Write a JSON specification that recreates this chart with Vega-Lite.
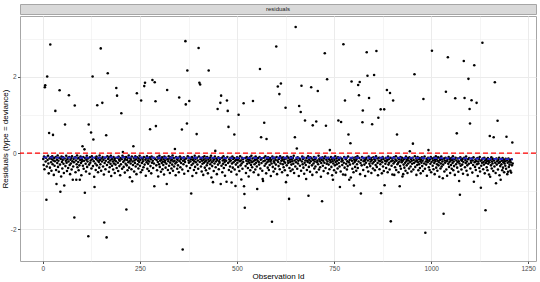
{
"$schema":"https://vega.github.io/schema/vega-lite/v6.json",
"padding":{"left":0,"right":4,"top":3,"bottom":0},
"spacing":0,
"config":{"font":"Liberation Sans","view":{"stroke":"#a6a6a6"},
"axis":{"labelFontSize":6.5,"labelColor":"#4d4d4d","titleFontSize":8,"titleFontWeight":"normal","titleColor":"#000000","tickColor":"#4d4d4d","tickSize":2.5,"labelPadding":1.5,"titlePadding":1,"domain":false,"gridColor":"#ebebeb","gridWidth":1}},
"datasets":{
"smooth":[{"id":1,"fit":-0.11},{"id":100,"fit":-0.12},{"id":200,"fit":-0.11},{"id":300,"fit":-0.12},{"id":400,"fit":-0.12},{"id":500,"fit":-0.13},{"id":600,"fit":-0.12},{"id":700,"fit":-0.12},{"id":800,"fit":-0.12},{"id":900,"fit":-0.12},{"id":1000,"fit":-0.13},{"id":1100,"fit":-0.14},{"id":1210,"fit":-0.16}],
"resid":[
{"id":1,"res":-0.15},{"id":2,"res":-0.31},{"id":3,"res":-0.09},{"id":4,"res":-0.42},{"id":5,"res":1.73},{"id":6,"res":1.78},{"id":7,"res":-0.22},{"id":8,"res":-0.12},{"id":9,"res":-1.22},{"id":10,"res":-0.35},
{"id":11,"res":2.01},{"id":12,"res":-0.18},{"id":13,"res":-0.07},{"id":14,"res":-0.27},{"id":15,"res":-0.53},{"id":16,"res":0.53},{"id":17,"res":-0.14},{"id":18,"res":-0.38},{"id":19,"res":2.85},{"id":20,"res":-0.11},
{"id":21,"res":-0.24},{"id":22,"res":-0.46},{"id":23,"res":-0.16},{"id":24,"res":-0.08},{"id":25,"res":-0.29},{"id":26,"res":0.48},{"id":27,"res":-0.19},{"id":28,"res":-0.57},{"id":29,"res":-0.13},{"id":30,"res":-0.33},
{"id":31,"res":-0.21},{"id":32,"res":1.11},{"id":33,"res":-0.1},{"id":34,"res":-0.44},{"id":35,"res":-0.81},{"id":36,"res":-0.17},{"id":37,"res":-0.26},{"id":38,"res":-0.06},{"id":39,"res":-0.36},{"id":40,"res":-0.2},
{"id":41,"res":-0.49},{"id":42,"res":-0.12},{"id":43,"res":1.65},{"id":44,"res":-0.3},{"id":45,"res":-1.01},{"id":46,"res":-0.15},{"id":47,"res":-0.61},{"id":48,"res":-0.09},{"id":49,"res":-0.23},{"id":50,"res":-0.4},
{"id":51,"res":-0.18},{"id":52,"res":-0.11},{"id":53,"res":-0.28},{"id":54,"res":-0.52},{"id":55,"res":-0.85},{"id":56,"res":-0.14},{"id":57,"res":0.75},{"id":58,"res":-0.34},{"id":59,"res":-0.2},{"id":60,"res":-0.07},
{"id":61,"res":-0.25},{"id":62,"res":-0.47},{"id":63,"res":-0.16},{"id":64,"res":-0.12},{"id":65,"res":-0.39},{"id":66,"res":-0.22},{"id":67,"res":1.52},{"id":68,"res":-0.1},{"id":69,"res":-0.31},{"id":70,"res":-0.55},
{"id":71,"res":-0.17},{"id":72,"res":-0.27},{"id":73,"res":-0.13},{"id":74,"res":-0.43},{"id":75,"res":-0.08},{"id":76,"res":-0.21},{"id":77,"res":-0.7},{"id":78,"res":-0.35},{"id":79,"res":-0.15},{"id":80,"res":-0.24},
{"id":81,"res":-1.69},{"id":82,"res":1.25},{"id":83,"res":-0.11},{"id":84,"res":-0.5},{"id":85,"res":-0.19},{"id":86,"res":-0.7},{"id":87,"res":-0.29},{"id":88,"res":-0.06},{"id":89,"res":-0.37},{"id":90,"res":-0.14},
{"id":91,"res":-0.23},{"id":92,"res":-0.45},{"id":93,"res":-0.12},{"id":94,"res":-0.32},{"id":95,"res":-0.7},{"id":96,"res":-0.18},{"id":97,"res":-0.09},{"id":98,"res":-0.26},{"id":99,"res":-0.58},{"id":100,"res":-0.16},
{"id":101,"res":-0.21},{"id":102,"res":0.18},{"id":103,"res":-0.33},{"id":104,"res":-0.1},{"id":105,"res":-0.41},{"id":106,"res":-0.2},{"id":107,"res":0.1},{"id":108,"res":-1.04},{"id":109,"res":-0.13},{"id":110,"res":-0.28},
{"id":111,"res":-0.48},{"id":112,"res":-0.17},{"id":113,"res":-0.07},{"id":114,"res":-0.36},{"id":115,"res":-0.22},{"id":116,"res":-0.14},{"id":117,"res":-2.18},{"id":118,"res":0.75},{"id":119,"res":-0.3},{"id":120,"res":-0.54},
{"id":121,"res":-0.11},{"id":122,"res":-0.25},{"id":123,"res":-0.19},{"id":124,"res":0.54},{"id":125,"res":-0.4},{"id":126,"res":-0.08},{"id":127,"res":-0.16},{"id":128,"res":2.01},{"id":129,"res":-0.34},{"id":130,"res":0.36},
{"id":131,"res":-0.21},{"id":132,"res":-0.62},{"id":133,"res":-0.89},{"id":134,"res":-0.12},{"id":135,"res":-0.27},{"id":136,"res":-0.44},{"id":137,"res":-0.15},{"id":138,"res":-0.09},{"id":139,"res":-0.32},{"id":140,"res":1.26},
{"id":141,"res":-0.19},{"id":142,"res":-0.5},{"id":143,"res":-0.13},{"id":144,"res":-0.23},{"id":145,"res":-0.38},{"id":146,"res":-0.06},{"id":147,"res":-0.18},{"id":148,"res":-0.29},{"id":149,"res":2.75},{"id":150,"res":-0.46},
{"id":151,"res":-0.14},{"id":152,"res":-0.22},{"id":153,"res":1.32},{"id":154,"res":-0.1},{"id":155,"res":-0.35},{"id":156,"res":-0.17},{"id":157,"res":-0.56},{"id":158,"res":-1.82},{"id":159,"res":-0.26},{"id":160,"res":-0.12},
{"id":161,"res":-0.42},{"id":162,"res":-0.2},{"id":163,"res":0.47},{"id":164,"res":-2.21},{"id":165,"res":-0.31},{"id":166,"res":-0.08},{"id":167,"res":2.1},{"id":168,"res":-0.15},{"id":169,"res":-0.24},{"id":170,"res":-0.49},
{"id":171,"res":-0.11},{"id":172,"res":-0.37},{"id":173,"res":-0.19},{"id":174,"res":-0.28},{"id":175,"res":-0.07},{"id":176,"res":-0.6},{"id":177,"res":-0.16},{"id":178,"res":-0.33},{"id":179,"res":-0.13},{"id":180,"res":-0.22},
{"id":181,"res":-0.43},{"id":182,"res":-0.1},{"id":183,"res":-0.27},{"id":184,"res":-0.18},{"id":185,"res":-0.52},{"id":186,"res":-0.14},{"id":187,"res":-0.3},{"id":188,"res":-0.21},{"id":189,"res":1.71},{"id":190,"res":-0.39},
{"id":191,"res":1.51},{"id":192,"res":-0.12},{"id":193,"res":-0.25},{"id":194,"res":-0.47},{"id":195,"res":-0.09},{"id":196,"res":-0.17},{"id":197,"res":-0.34},{"id":198,"res":-0.2},{"id":199,"res":-0.58},{"id":200,"res":-0.13},
{"id":201,"res":-0.29},{"id":202,"res":1.05},{"id":203,"res":-0.16},{"id":204,"res":-0.41},{"id":205,"res":-0.07},{"id":206,"res":0.03},{"id":207,"res":-0.23},{"id":208,"res":-0.36},{"id":209,"res":-0.11},{"id":210,"res":-0.19},
{"id":211,"res":-0.51},{"id":212,"res":-0.15},{"id":213,"res":-0.28},{"id":214,"res":-0.1},{"id":215,"res":-1.48},{"id":216,"res":-0.32},{"id":217,"res":-0.18},{"id":218,"res":-0.45},{"id":219,"res":-0.12},{"id":220,"res":-0.24},
{"id":221,"res":-0.06},{"id":222,"res":-0.38},{"id":223,"res":-0.21},{"id":224,"res":-0.63},{"id":225,"res":-0.14},{"id":226,"res":-0.27},{"id":227,"res":-0.17},{"id":228,"res":-0.42},{"id":229,"res":-0.09},{"id":230,"res":-0.74},
{"id":231,"res":-0.22},{"id":232,"res":-0.31},{"id":233,"res":0.18},{"id":234,"res":-0.13},{"id":235,"res":-0.48},{"id":236,"res":-0.19},{"id":237,"res":-0.26},{"id":238,"res":-0.08},{"id":239,"res":-0.35},{"id":240,"res":-0.16},
{"id":241,"res":-0.55},{"id":242,"res":1.57},{"id":243,"res":-0.11},{"id":244,"res":-0.29},{"id":245,"res":-0.2},{"id":246,"res":-0.4},{"id":247,"res":-0.14},{"id":248,"res":-0.23},{"id":249,"res":-0.07},{"id":250,"res":-0.33},
{"id":251,"res":-0.18},{"id":252,"res":-0.5},{"id":253,"res":1.38},{"id":254,"res":-0.12},{"id":255,"res":-0.26},{"id":256,"res":-0.44},{"id":257,"res":-0.15},{"id":258,"res":-0.21},{"id":259,"res":-0.37},{"id":260,"res":-0.1},
{"id":261,"res":1.76},{"id":262,"res":-0.3},{"id":263,"res":1.85},{"id":264,"res":-0.17},{"id":265,"res":-0.59},{"id":266,"res":-0.13},{"id":267,"res":-0.24},{"id":268,"res":-0.08},{"id":269,"res":-0.41},{"id":270,"res":-0.19},
{"id":271,"res":-0.28},{"id":272,"res":-0.14},{"id":273,"res":-0.47},{"id":274,"res":-0.22},{"id":275,"res":-0.11},{"id":276,"res":0.63},{"id":277,"res":-0.34},{"id":278,"res":-0.16},{"id":279,"res":-0.53},{"id":280,"res":-0.09},
{"id":281,"res":-0.25},{"id":282,"res":1.92},{"id":283,"res":-0.2},{"id":284,"res":-0.39},{"id":285,"res":-0.12},{"id":286,"res":-0.27},{"id":287,"res":-0.87},{"id":288,"res":1.86},{"id":289,"res":-0.15},{"id":290,"res":1.36},
{"id":291,"res":0.71},{"id":292,"res":-0.32},{"id":293,"res":-0.18},{"id":294,"res":-0.45},{"id":295,"res":-0.1},{"id":296,"res":-0.23},{"id":297,"res":-0.61},{"id":298,"res":-0.14},{"id":299,"res":-0.29},{"id":300,"res":-0.07},
{"id":301,"res":-0.36},{"id":302,"res":-0.2},{"id":303,"res":-0.13},{"id":304,"res":-0.49},{"id":305,"res":-0.17},{"id":306,"res":-0.26},{"id":307,"res":-0.11},{"id":308,"res":-0.42},{"id":309,"res":-0.22},{"id":310,"res":-0.31},
{"id":311,"res":-0.15},{"id":312,"res":-0.56},{"id":313,"res":-0.09},{"id":314,"res":-0.24},{"id":315,"res":-0.19},{"id":316,"res":-0.38},{"id":317,"res":-0.12},{"id":318,"res":-0.28},{"id":319,"res":-0.81},{"id":320,"res":1.66},
{"id":321,"res":-0.16},{"id":322,"res":-0.44},{"id":323,"res":-0.21},{"id":324,"res":-0.08},{"id":325,"res":-0.33},{"id":326,"res":-0.14},{"id":327,"res":-0.52},{"id":328,"res":-0.25},{"id":329,"res":-0.11},{"id":330,"res":-0.19},
{"id":331,"res":-0.4},{"id":332,"res":-0.17},{"id":333,"res":-0.3},{"id":334,"res":-0.06},{"id":335,"res":-0.46},{"id":336,"res":-0.22},{"id":337,"res":-0.13},{"id":338,"res":-0.35},{"id":339,"res":-0.2},{"id":340,"res":0.11},
{"id":341,"res":-0.27},{"id":342,"res":-0.58},{"id":343,"res":-0.1},{"id":344,"res":-0.24},{"id":345,"res":-0.15},{"id":346,"res":-0.41},{"id":347,"res":-0.18},{"id":348,"res":-0.32},{"id":349,"res":-0.12},{"id":350,"res":-0.5},
{"id":351,"res":1.46},{"id":352,"res":-0.21},{"id":353,"res":-0.09},{"id":354,"res":-0.37},{"id":355,"res":-0.16},{"id":356,"res":-0.26},{"id":357,"res":-0.13},{"id":358,"res":0.62},{"id":359,"res":-0.43},{"id":360,"res":-2.53},
{"id":361,"res":-0.2},{"id":362,"res":-0.29},{"id":363,"res":-0.11},{"id":364,"res":-0.54},{"id":365,"res":-0.17},{"id":366,"res":-0.23},{"id":367,"res":2.94},{"id":368,"res":1.28},{"id":369,"res":-0.14},{"id":370,"res":-0.34},
{"id":371,"res":0.78},{"id":372,"res":2.17},{"id":373,"res":-0.08},{"id":374,"res":-0.47},{"id":375,"res":-0.19},{"id":376,"res":-0.25},{"id":377,"res":1.37},{"id":378,"res":-0.12},{"id":379,"res":-0.39},{"id":380,"res":-0.22},
{"id":381,"res":-0.16},{"id":382,"res":-1.06},{"id":383,"res":-0.31},{"id":384,"res":-0.1},{"id":385,"res":-0.6},{"id":386,"res":-0.18},{"id":387,"res":-0.27},{"id":388,"res":-0.14},{"id":389,"res":-0.44},{"id":390,"res":-0.21},
{"id":391,"res":-0.07},{"id":392,"res":-0.36},{"id":393,"res":-0.15},{"id":394,"res":-0.24},{"id":395,"res":-0.52},{"id":396,"res":0.5},{"id":397,"res":-0.12},{"id":398,"res":-0.3},{"id":399,"res":-0.19},{"id":400,"res":-0.41},
{"id":401,"res":2.76},{"id":402,"res":-0.09},{"id":403,"res":1.85},{"id":404,"res":-0.23},{"id":405,"res":1.8},{"id":406,"res":-0.16},{"id":407,"res":-0.35},{"id":408,"res":-0.13},{"id":409,"res":-0.48},{"id":410,"res":-0.2},
{"id":411,"res":-0.28},{"id":412,"res":-0.11},{"id":413,"res":-0.57},{"id":414,"res":-0.17},{"id":415,"res":-0.25},{"id":416,"res":-0.08},{"id":417,"res":-0.38},{"id":418,"res":-0.22},{"id":419,"res":-0.14},{"id":420,"res":-0.45},
{"id":421,"res":-0.19},{"id":422,"res":-0.32},{"id":423,"res":-0.1},{"id":424,"res":-0.26},{"id":425,"res":-0.53},{"id":426,"res":-0.15},{"id":427,"res":2.17},{"id":428,"res":-0.21},{"id":429,"res":-0.4},{"id":430,"res":-0.12},
{"id":431,"res":-0.29},{"id":432,"res":-0.18},{"id":433,"res":-0.07},{"id":434,"res":-0.64},{"id":435,"res":-0.24},{"id":436,"res":-0.34},{"id":437,"res":-0.13},{"id":438,"res":-0.76},{"id":439,"res":-0.2},{"id":440,"res":-0.47},
{"id":441,"res":-0.16},{"id":442,"res":-0.27},{"id":443,"res":-0.09},{"id":444,"res":0.06},{"id":445,"res":-0.37},{"id":446,"res":-0.22},{"id":447,"res":-0.14},{"id":448,"res":-0.55},{"id":449,"res":-0.18},{"id":450,"res":1.16},
{"id":451,"res":-0.3},{"id":452,"res":-0.11},{"id":453,"res":-0.42},{"id":454,"res":-0.21},{"id":455,"res":-0.25},{"id":456,"res":-0.15},{"id":457,"res":1.32},{"id":458,"res":-0.81},{"id":459,"res":1.51},{"id":460,"res":-0.33},
{"id":461,"res":-0.12},{"id":462,"res":-0.5},{"id":463,"res":-0.19},{"id":464,"res":-0.28},{"id":465,"res":-0.08},{"id":466,"res":-0.39},{"id":467,"res":-0.17},{"id":468,"res":-0.23},{"id":469,"res":-0.59},{"id":470,"res":-0.14},
{"id":471,"res":-0.31},{"id":472,"res":-0.2},{"id":473,"res":-0.75},{"id":474,"res":1.38},{"id":475,"res":-0.1},{"id":476,"res":1.11},{"id":477,"res":-0.26},{"id":478,"res":0.69},{"id":479,"res":-0.44},{"id":480,"res":-0.16},
{"id":481,"res":-0.22},{"id":482,"res":-0.35},{"id":483,"res":-0.12},{"id":484,"res":-0.19},{"id":485,"res":-0.49},{"id":486,"res":-0.77},{"id":487,"res":-0.27},{"id":488,"res":-0.09},{"id":489,"res":-0.38},{"id":490,"res":-0.15},
{"id":491,"res":-0.24},{"id":492,"res":-0.13},{"id":493,"res":0.49},{"id":494,"res":-0.43},{"id":495,"res":-0.2},{"id":496,"res":-0.86},{"id":497,"res":-0.3},{"id":498,"res":-0.17},{"id":499,"res":-0.56},{"id":500,"res":-0.11},
{"id":501,"res":-0.25},{"id":502,"res":-0.18},{"id":503,"res":-0.36},{"id":504,"res":1.01},{"id":505,"res":-0.14},{"id":506,"res":-0.47},{"id":507,"res":-0.21},{"id":508,"res":-0.08},{"id":509,"res":-0.32},{"id":510,"res":-0.19},
{"id":511,"res":-0.69},{"id":512,"res":-0.27},{"id":513,"res":-0.12},{"id":514,"res":-0.41},{"id":515,"res":-0.16},{"id":516,"res":-0.23},{"id":517,"res":1.31},{"id":518,"res":-0.87},{"id":519,"res":-1.07},{"id":520,"res":-1.43},
{"id":521,"res":-0.13},{"id":522,"res":-0.34},{"id":523,"res":-0.52},{"id":524,"res":-0.2},{"id":525,"res":-0.1},{"id":526,"res":-0.28},{"id":527,"res":-0.15},{"id":528,"res":-0.39},{"id":529,"res":-0.22},{"id":530,"res":-0.61},
{"id":531,"res":-0.17},{"id":532,"res":-0.26},{"id":533,"res":-0.11},{"id":534,"res":-0.45},{"id":535,"res":-0.19},{"id":536,"res":-0.31},{"id":537,"res":-0.07},{"id":538,"res":-0.24},{"id":539,"res":-0.37},{"id":540,"res":-0.14},
{"id":541,"res":1.37},{"id":542,"res":-0.21},{"id":543,"res":-0.5},{"id":544,"res":-0.12},{"id":545,"res":-0.29},{"id":546,"res":-0.18},{"id":547,"res":-0.43},{"id":548,"res":-0.09},{"id":549,"res":-0.25},{"id":550,"res":-0.16},
{"id":551,"res":-0.35},{"id":552,"res":-0.94},{"id":553,"res":-0.2},{"id":554,"res":-0.13},{"id":555,"res":-0.57},{"id":556,"res":-0.23},{"id":557,"res":-0.3},{"id":558,"res":-0.1},{"id":559,"res":2.21},{"id":560,"res":-0.4},
{"id":561,"res":-0.17},{"id":562,"res":0.42},{"id":563,"res":-0.26},{"id":564,"res":-0.14},{"id":565,"res":-0.46},{"id":566,"res":-0.68},{"id":567,"res":-0.73},{"id":568,"res":-0.21},{"id":569,"res":-0.12},{"id":570,"res":0.8},
{"id":571,"res":-0.33},{"id":572,"res":-0.19},{"id":573,"res":-0.08},{"id":574,"res":-0.28},{"id":575,"res":-0.53},{"id":576,"res":0.37},{"id":577,"res":-0.15},{"id":578,"res":-0.24},{"id":579,"res":-0.38},{"id":580,"res":-0.11},
{"id":581,"res":-0.2},{"id":582,"res":-0.44},{"id":583,"res":-0.16},{"id":584,"res":-0.31},{"id":585,"res":-0.13},{"id":586,"res":-0.22},{"id":587,"res":-0.6},{"id":588,"res":-0.18},{"id":589,"res":-0.27},{"id":590,"res":-1.8},
{"id":591,"res":-0.09},{"id":592,"res":-0.36},{"id":593,"res":-0.14},{"id":594,"res":-0.48},{"id":595,"res":-0.21},{"id":596,"res":-0.25},{"id":597,"res":-0.12},{"id":598,"res":-0.41},{"id":599,"res":-0.17},{"id":600,"res":-0.3},
{"id":601,"res":2.8},{"id":602,"res":-0.1},{"id":603,"res":-0.55},{"id":604,"res":-0.19},{"id":605,"res":1.75},{"id":606,"res":-0.23},{"id":607,"res":-0.34},{"id":608,"res":-0.15},{"id":609,"res":1.55},{"id":610,"res":-0.42},
{"id":611,"res":-0.08},{"id":612,"res":-0.27},{"id":613,"res":1.83},{"id":614,"res":-0.2},{"id":615,"res":-0.13},{"id":616,"res":-0.5},{"id":617,"res":-0.18},{"id":618,"res":-0.29},{"id":619,"res":-0.11},{"id":620,"res":-0.37},
{"id":621,"res":-0.22},{"id":622,"res":-0.16},{"id":623,"res":-0.45},{"id":624,"res":-0.25},{"id":625,"res":1.19},{"id":626,"res":-0.76},{"id":627,"res":-0.14},{"id":628,"res":-0.32},{"id":629,"res":-0.09},{"id":630,"res":-0.58},
{"id":631,"res":-0.2},{"id":632,"res":-0.26},{"id":633,"res":-0.12},{"id":634,"res":-1.2},{"id":635,"res":-0.39},{"id":636,"res":-0.17},{"id":637,"res":-0.23},{"id":638,"res":-0.47},{"id":639,"res":-0.1},{"id":640,"res":-0.3},
{"id":641,"res":-0.15},{"id":642,"res":-0.21},{"id":643,"res":-0.43},{"id":644,"res":-0.13},{"id":645,"res":-0.28},{"id":646,"res":-0.07},{"id":647,"res":-0.52},{"id":648,"res":-0.19},{"id":649,"res":0.42},{"id":650,"res":-0.35},
{"id":651,"res":3.31},{"id":652,"res":-0.24},{"id":653,"res":-0.16},{"id":654,"res":0.12},{"id":655,"res":-0.41},{"id":656,"res":-0.11},{"id":657,"res":-0.27},{"id":658,"res":-0.2},{"id":659,"res":-0.6},{"id":660,"res":1.24},
{"id":661,"res":-0.14},{"id":662,"res":-0.33},{"id":663,"res":-0.18},{"id":664,"res":1.08},{"id":665,"res":-0.46},{"id":666,"res":1.77},{"id":667,"res":-0.22},{"id":668,"res":-0.09},{"id":669,"res":-0.29},{"id":670,"res":-0.15},
{"id":671,"res":-0.38},{"id":672,"res":-0.12},{"id":673,"res":-0.54},{"id":674,"res":-0.25},{"id":675,"res":0.86},{"id":676,"res":-0.19},{"id":677,"res":-0.31},{"id":678,"res":-0.68},{"id":679,"res":-0.13},{"id":680,"res":-0.44},
{"id":681,"res":-0.2},{"id":682,"res":-0.23},{"id":683,"res":-0.08},{"id":684,"res":-1.12},{"id":685,"res":-0.36},{"id":686,"res":-0.17},{"id":687,"res":-0.26},{"id":688,"res":-0.49},{"id":689,"res":-0.11},{"id":690,"res":-0.21},
{"id":691,"res":1.73},{"id":692,"res":-0.14},{"id":693,"res":-0.32},{"id":694,"res":-0.57},{"id":695,"res":0.73},{"id":696,"res":-0.18},{"id":697,"res":-0.27},{"id":698,"res":-0.1},{"id":699,"res":-0.4},{"id":700,"res":-0.22},
{"id":701,"res":-0.16},{"id":702,"res":-0.35},{"id":703,"res":-0.12},{"id":704,"res":0.83},{"id":705,"res":-0.5},{"id":706,"res":-0.24},{"id":707,"res":-0.19},{"id":708,"res":1.63},{"id":709,"res":-0.29},{"id":710,"res":-0.07},
{"id":711,"res":-0.43},{"id":712,"res":-0.15},{"id":713,"res":-0.21},{"id":714,"res":-0.37},{"id":715,"res":-0.13},{"id":716,"res":-0.62},{"id":717,"res":-0.26},{"id":718,"res":-0.18},{"id":719,"res":-1.26},{"id":720,"res":-0.11},
{"id":721,"res":-0.33},{"id":722,"res":-0.2},{"id":723,"res":-0.47},{"id":724,"res":-0.14},{"id":725,"res":-0.25},{"id":726,"res":2.62},{"id":727,"res":-0.09},{"id":728,"res":-0.39},{"id":729,"res":0.72},{"id":730,"res":-0.17},
{"id":731,"res":-0.28},{"id":732,"res":1.94},{"id":733,"res":-0.22},{"id":734,"res":-0.53},{"id":735,"res":-0.12},{"id":736,"res":-0.3},{"id":737,"res":-0.16},{"id":738,"res":-0.42},{"id":739,"res":0.08},{"id":740,"res":-0.19},
{"id":741,"res":-0.24},{"id":742,"res":-0.1},{"id":743,"res":-0.36},{"id":744,"res":-0.15},{"id":745,"res":-0.58},{"id":746,"res":-0.21},{"id":747,"res":-0.7},{"id":748,"res":-0.27},{"id":749,"res":-0.13},{"id":750,"res":-0.45},
{"id":751,"res":-0.18},{"id":752,"res":-0.32},{"id":753,"res":-0.08},{"id":754,"res":-0.23},{"id":755,"res":-0.51},{"id":756,"res":-0.14},{"id":757,"res":-0.29},{"id":758,"res":-0.2},{"id":759,"res":-0.4},{"id":760,"res":-0.11},
{"id":761,"res":0.86},{"id":762,"res":-0.26},{"id":763,"res":-0.17},{"id":764,"res":-0.35},{"id":765,"res":-0.89},{"id":766,"res":-0.12},{"id":767,"res":-0.48},{"id":768,"res":0.82},{"id":769,"res":-0.22},{"id":770,"res":-0.15},
{"id":771,"res":-0.31},{"id":772,"res":-0.19},{"id":773,"res":-0.56},{"id":774,"res":2.86},{"id":775,"res":-0.25},{"id":776,"res":-0.1},{"id":777,"res":-0.38},{"id":778,"res":1.38},{"id":779,"res":-0.57},{"id":780,"res":-0.16},
{"id":781,"res":-0.28},{"id":782,"res":-0.13},{"id":783,"res":-0.43},{"id":784,"res":-0.21},{"id":785,"res":-0.34},{"id":786,"res":-0.09},{"id":787,"res":0.49},{"id":788,"res":-0.24},{"id":789,"res":-0.7},{"id":790,"res":-0.18},
{"id":791,"res":-0.3},{"id":792,"res":0.26},{"id":793,"res":-0.64},{"id":794,"res":-0.14},{"id":795,"res":1.88},{"id":796,"res":-0.2},{"id":797,"res":-0.41},{"id":798,"res":-0.12},{"id":799,"res":-0.27},{"id":800,"res":-0.5},
{"id":801,"res":-0.85},{"id":802,"res":-0.17},{"id":803,"res":-0.23},{"id":804,"res":-0.36},{"id":805,"res":-0.11},{"id":806,"res":-0.19},{"id":807,"res":-0.46},{"id":808,"res":-0.15},{"id":809,"res":-0.29},{"id":810,"res":-0.08},
{"id":811,"res":-0.39},{"id":812,"res":1.79},{"id":813,"res":-0.22},{"id":814,"res":1.52},{"id":815,"res":-0.13},{"id":816,"res":1.87},{"id":817,"res":-0.55},{"id":818,"res":-0.26},{"id":819,"res":-1.06},{"id":820,"res":-0.18},
{"id":821,"res":-0.32},{"id":822,"res":-0.1},{"id":823,"res":0.81},{"id":824,"res":1.12},{"id":825,"res":-0.44},{"id":826,"res":-0.21},{"id":827,"res":-0.14},{"id":828,"res":-0.3},{"id":829,"res":-0.2},{"id":830,"res":-0.6},
{"id":831,"res":-0.16},{"id":832,"res":-0.25},{"id":833,"res":-0.12},{"id":834,"res":2.65},{"id":835,"res":-0.37},{"id":836,"res":2.03},{"id":837,"res":-0.19},{"id":838,"res":-0.48},{"id":839,"res":-0.09},{"id":840,"res":1.45},
{"id":841,"res":-0.28},{"id":842,"res":-0.15},{"id":843,"res":-0.34},{"id":844,"res":-0.22},{"id":845,"res":-0.13},{"id":846,"res":-0.52},{"id":847,"res":-0.18},{"id":848,"res":0.76},{"id":849,"res":-0.27},{"id":850,"res":-0.4},
{"id":851,"res":-0.11},{"id":852,"res":-0.23},{"id":853,"res":2.05},{"id":854,"res":-0.16},{"id":855,"res":-0.45},{"id":856,"res":-0.2},{"id":857,"res":-0.31},{"id":858,"res":-0.08},{"id":859,"res":2.68},{"id":860,"res":-0.36},
{"id":861,"res":-0.14},{"id":862,"res":-0.26},{"id":863,"res":-0.58},{"id":864,"res":0.93},{"id":865,"res":-0.19},{"id":866,"res":-0.12},{"id":867,"res":-0.42},{"id":868,"res":-0.21},{"id":869,"res":-0.29},{"id":870,"res":1.15},
{"id":871,"res":-1.05},{"id":872,"res":-0.17},{"id":873,"res":-0.53},{"id":874,"res":-0.24},{"id":875,"res":-0.1},{"id":876,"res":-0.35},{"id":877,"res":-0.15},{"id":878,"res":-0.47},{"id":879,"res":1.15},{"id":880,"res":-0.84},
{"id":881,"res":-0.2},{"id":882,"res":-0.28},{"id":883,"res":-0.13},{"id":884,"res":-0.39},{"id":885,"res":-0.22},{"id":886,"res":1.66},{"id":887,"res":-0.18},{"id":888,"res":-0.5},{"id":889,"res":-0.09},{"id":890,"res":-0.3},
{"id":891,"res":-0.16},{"id":892,"res":-0.25},{"id":893,"res":-0.43},{"id":894,"res":1.58},{"id":895,"res":-0.12},{"id":896,"res":-1.79},{"id":897,"res":-0.21},{"id":898,"res":-0.33},{"id":899,"res":-0.14},{"id":900,"res":-0.56},
{"id":901,"res":-0.19},{"id":902,"res":1.38},{"id":903,"res":-0.27},{"id":904,"res":-0.11},{"id":905,"res":-0.57},{"id":906,"res":-0.23},{"id":907,"res":-0.37},{"id":908,"res":-0.17},{"id":909,"res":-0.08},{"id":910,"res":-0.44},
{"id":911,"res":-0.2},{"id":912,"res":0.49},{"id":913,"res":-0.29},{"id":914,"res":-0.13},{"id":915,"res":-0.26},{"id":916,"res":-0.5},{"id":917,"res":-0.15},{"id":918,"res":-0.22},{"id":919,"res":-0.87},{"id":920,"res":-0.34},
{"id":921,"res":-0.1},{"id":922,"res":-0.41},{"id":923,"res":-0.18},{"id":924,"res":-0.24},{"id":925,"res":-0.12},{"id":926,"res":-0.61},{"id":927,"res":-0.2},{"id":928,"res":-0.55},{"id":929,"res":-0.3},{"id":930,"res":-0.16},
{"id":931,"res":-0.38},{"id":932,"res":-0.14},{"id":933,"res":-0.25},{"id":934,"res":-0.46},{"id":935,"res":-0.09},{"id":936,"res":-0.21},{"id":937,"res":-0.32},{"id":938,"res":-0.17},{"id":939,"res":-0.52},{"id":940,"res":-0.13},
{"id":941,"res":-0.27},{"id":942,"res":-0.19},{"id":943,"res":-0.4},{"id":944,"res":-0.11},{"id":945,"res":0.05},{"id":946,"res":-0.23},{"id":947,"res":-0.35},{"id":948,"res":-0.15},{"id":949,"res":-0.48},{"id":950,"res":-0.2},
{"id":951,"res":-0.28},{"id":952,"res":-0.12},{"id":953,"res":0.25},{"id":954,"res":-0.43},{"id":955,"res":-0.18},{"id":956,"res":-0.26},{"id":957,"res":2.07},{"id":958,"res":-0.08},{"id":959,"res":-0.36},{"id":960,"res":-0.22},
{"id":961,"res":-0.14},{"id":962,"res":-0.57},{"id":963,"res":-0.19},{"id":964,"res":-0.31},{"id":965,"res":-0.1},{"id":966,"res":-0.24},{"id":967,"res":-0.45},{"id":968,"res":-0.16},{"id":969,"res":-0.29},{"id":970,"res":-0.13},
{"id":971,"res":-0.39},{"id":972,"res":-0.21},{"id":973,"res":-0.53},{"id":974,"res":-0.17},{"id":975,"res":-0.25},{"id":976,"res":-0.11},{"id":977,"res":-0.34},{"id":978,"res":-0.2},{"id":979,"res":-0.47},{"id":980,"res":1.42},
{"id":981,"res":-0.14},{"id":982,"res":-0.27},{"id":983,"res":-0.09},{"id":984,"res":-0.41},{"id":985,"res":-2.09},{"id":986,"res":-0.22},{"id":987,"res":-0.3},{"id":988,"res":-0.15},{"id":989,"res":-0.59},{"id":990,"res":-0.18},
{"id":991,"res":-0.24},{"id":992,"res":-0.12},{"id":993,"res":0.08},{"id":994,"res":-0.37},{"id":995,"res":-0.2},{"id":996,"res":-0.44},{"id":997,"res":-0.16},{"id":998,"res":-0.28},{"id":999,"res":-0.1},{"id":1000,"res":-0.5},
{"id":1001,"res":-0.23},{"id":1002,"res":2.69},{"id":1003,"res":-0.14},{"id":1004,"res":-0.33},{"id":1005,"res":-0.19},{"id":1006,"res":-0.42},{"id":1007,"res":-0.12},{"id":1008,"res":-0.26},{"id":1009,"res":-0.55},{"id":1010,"res":-0.17},
{"id":1011,"res":-0.21},{"id":1012,"res":-0.08},{"id":1013,"res":-0.38},{"id":1014,"res":-0.15},{"id":1015,"res":-0.29},{"id":1016,"res":-0.46},{"id":1017,"res":-0.2},{"id":1018,"res":-0.11},{"id":1019,"res":-0.32},{"id":1020,"res":-0.24},
{"id":1021,"res":-0.62},{"id":1022,"res":-0.13},{"id":1023,"res":-0.18},{"id":1024,"res":-0.4},{"id":1025,"res":-0.27},{"id":1026,"res":-0.09},{"id":1027,"res":-0.35},{"id":1028,"res":-0.16},{"id":1029,"res":-0.22},{"id":1030,"res":-0.66},
{"id":1031,"res":-0.3},{"id":1032,"res":-1.59},{"id":1033,"res":-0.14},{"id":1034,"res":-0.48},{"id":1035,"res":-0.19},{"id":1036,"res":-0.25},{"id":1037,"res":-0.12},{"id":1038,"res":1.61},{"id":1039,"res":-0.43},{"id":1040,"res":-0.21},
{"id":1041,"res":-0.59},{"id":1042,"res":-0.17},{"id":1043,"res":2.52},{"id":1044,"res":-0.28},{"id":1045,"res":-0.1},{"id":1046,"res":-0.36},{"id":1047,"res":-0.23},{"id":1048,"res":-0.15},{"id":1049,"res":-0.52},{"id":1050,"res":-0.2},
{"id":1051,"res":-0.31},{"id":1052,"res":-0.13},{"id":1053,"res":-0.41},{"id":1054,"res":-0.18},{"id":1055,"res":-0.26},{"id":1056,"res":-0.08},{"id":1057,"res":-0.45},{"id":1058,"res":-0.22},{"id":1059,"res":-0.34},{"id":1060,"res":-0.16},
{"id":1061,"res":-0.57},{"id":1062,"res":1.44},{"id":1063,"res":-0.12},{"id":1064,"res":-0.29},{"id":1065,"res":-0.19},{"id":1066,"res":0.52},{"id":1067,"res":-0.38},{"id":1068,"res":-0.24},{"id":1069,"res":-0.14},{"id":1070,"res":-0.49},
{"id":1071,"res":-0.21},{"id":1072,"res":-0.73},{"id":1073,"res":-0.27},{"id":1074,"res":-1.09},{"id":1075,"res":-0.11},{"id":1076,"res":-0.33},{"id":1077,"res":-0.17},{"id":1078,"res":-0.43},{"id":1079,"res":-0.2},{"id":1080,"res":-0.3},
{"id":1081,"res":-0.15},{"id":1082,"res":-0.54},{"id":1083,"res":-0.23},{"id":1084,"res":2.42},{"id":1085,"res":-0.12},{"id":1086,"res":1.45},{"id":1087,"res":-0.37},{"id":1088,"res":-0.18},{"id":1089,"res":-0.26},{"id":1090,"res":-0.09},
{"id":1091,"res":-0.46},{"id":1092,"res":-0.22},{"id":1093,"res":-0.32},{"id":1094,"res":-0.57},{"id":1095,"res":-0.16},{"id":1096,"res":1.95},{"id":1097,"res":-0.28},{"id":1098,"res":-0.13},{"id":1099,"res":1.16},{"id":1100,"res":0.78},
{"id":1101,"res":-0.4},{"id":1102,"res":-0.2},{"id":1103,"res":-0.25},{"id":1104,"res":1.39},{"id":1105,"res":-0.14},{"id":1106,"res":-0.51},{"id":1107,"res":-0.19},{"id":1108,"res":-0.31},{"id":1109,"res":-0.11},{"id":1110,"res":-0.75},
{"id":1111,"res":2.31},{"id":1112,"res":-0.24},{"id":1113,"res":-0.36},{"id":1114,"res":-0.17},{"id":1115,"res":-0.44},{"id":1116,"res":-0.21},{"id":1117,"res":1.32},{"id":1118,"res":-0.29},{"id":1119,"res":-0.13},{"id":1120,"res":-0.6},
{"id":1121,"res":-0.22},{"id":1122,"res":-0.27},{"id":1123,"res":-0.15},{"id":1124,"res":-0.39},{"id":1125,"res":-0.1},{"id":1126,"res":-0.48},{"id":1127,"res":-0.2},{"id":1128,"res":-0.91},{"id":1129,"res":-0.33},{"id":1130,"res":-0.18},
{"id":1131,"res":-0.25},{"id":1132,"res":2.9},{"id":1133,"res":-0.14},{"id":1134,"res":-0.42},{"id":1135,"res":-0.23},{"id":1136,"res":-0.3},{"id":1137,"res":-0.12},{"id":1138,"res":-0.53},{"id":1139,"res":-0.19},{"id":1140,"res":-1.5},
{"id":1141,"res":-0.26},{"id":1142,"res":-0.16},{"id":1143,"res":-0.37},{"id":1144,"res":-0.21},{"id":1145,"res":-0.45},{"id":1146,"res":-0.13},{"id":1147,"res":-0.28},{"id":1148,"res":-0.2},{"id":1149,"res":-0.56},{"id":1150,"res":-0.24},
{"id":1151,"res":0.45},{"id":1152,"res":-0.62},{"id":1153,"res":-0.17},{"id":1154,"res":-0.32},{"id":1155,"res":-0.11},{"id":1156,"res":-0.4},{"id":1157,"res":-0.22},{"id":1158,"res":-0.27},{"id":1159,"res":-0.15},{"id":1160,"res":-0.47},
{"id":1161,"res":0.42},{"id":1162,"res":-0.19},{"id":1163,"res":-0.35},{"id":1164,"res":1.86},{"id":1165,"res":-0.25},{"id":1166,"res":-0.52},{"id":1167,"res":-0.79},{"id":1168,"res":-0.14},{"id":1169,"res":-0.3},{"id":1170,"res":-0.21},
{"id":1171,"res":0.85},{"id":1172,"res":-0.43},{"id":1173,"res":-0.18},{"id":1174,"res":-0.26},{"id":1175,"res":-0.12},{"id":1176,"res":-0.58},{"id":1177,"res":-0.23},{"id":1178,"res":-0.34},{"id":1179,"res":-0.7},{"id":1180,"res":-0.16},
{"id":1181,"res":-0.29},{"id":1182,"res":-0.2},{"id":1183,"res":-0.45},{"id":1184,"res":-0.13},{"id":1185,"res":-0.38},{"id":1186,"res":-0.24},{"id":1187,"res":-0.17},{"id":1188,"res":-0.5},{"id":1189,"res":-0.27},{"id":1190,"res":-0.21},
{"id":1191,"res":-0.33},{"id":1192,"res":-0.15},{"id":1193,"res":-0.41},{"id":1194,"res":0.43},{"id":1195,"res":-0.19},{"id":1196,"res":-0.55},{"id":1197,"res":-0.25},{"id":1198,"res":-0.49},{"id":1199,"res":-0.14},{"id":1200,"res":-0.36},
{"id":1201,"res":-0.22},{"id":1202,"res":-0.3},{"id":1203,"res":-0.18},{"id":1204,"res":-0.46},{"id":1205,"res":-0.24},{"id":1206,"res":-0.51},{"id":1207,"res":-0.16},{"id":1208,"res":-0.32},{"id":1209,"res":0.28},{"id":1210,"res":-0.27}
]},
"vconcat":[
{"width":516,"height":10,
"data":{"values":[{"panel":"residuals"}]},
"view":{"fill":"#d9d9d9","stroke":"#a6a6a6"},
"mark":{"type":"text","fontSize":6,"color":"#1a1a1a","baseline":"middle","align":"center"},
"encoding":{"text":{"field":"panel","type":"nominal"}}},
{"width":516,"height":245,
"layer":[
{"data":{"name":"resid"},
"mark":{"type":"circle","size":6.5,"color":"#000000","opacity":1},
"encoding":{
"x":{"field":"id","type":"quantitative","scale":{"domain":[-59,1270],"nice":false,"zero":false},
"axis":{"values":[0,125,250,375,500,625,750,875,1000,1125,1250],"title":"Observation Id","grid":true,
"labelExpr":"datum.value % 250 == 0 ? '' + datum.value : ''",
"tickOpacity":{"condition":{"test":"datum.value % 250 != 0","value":0},"value":1},
"gridWidth":{"condition":{"test":"datum.value % 250 != 0","value":0.5},"value":1}}},
"y":{"field":"res","type":"quantitative","scale":{"domain":[-2.83,3.6],"nice":false,"zero":false},
"axis":{"values":[-2,-1,0,1,2,3],"title":"Residuals (type = deviance)","grid":true,
"labelExpr":"datum.value % 2 == 0 ? '' + datum.value : ''",
"tickOpacity":{"condition":{"test":"datum.value % 2 != 0","value":0},"value":1},
"gridWidth":{"condition":{"test":"datum.value % 2 != 0","value":0.5},"value":1}}}}},
{"data":{"values":[{"ref":0}]},
"mark":{"type":"rule","color":"#ff0000","strokeWidth":1.4,"strokeDash":[5,3]},
"encoding":{"y":{"field":"ref","type":"quantitative"}}},
{"data":{"name":"smooth"},
"mark":{"type":"line","color":"#2020c8","strokeWidth":1.8,"strokeDash":[4,2],"interpolate":"monotone"},
"encoding":{
"x":{"field":"id","type":"quantitative"},
"y":{"field":"fit","type":"quantitative"}}}
]}
]
}
